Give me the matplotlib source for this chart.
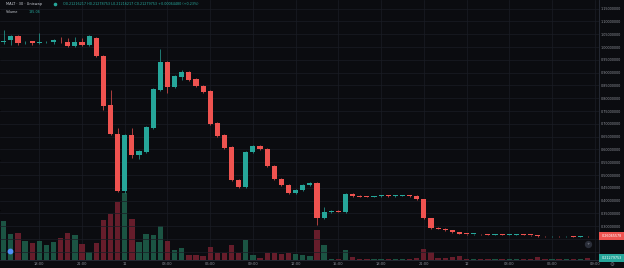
import numpy as np
import matplotlib
matplotlib.use("Agg")
import matplotlib.pyplot as plt
import matplotlib.transforms as mtransforms

# 30-minute candles, MALT / Uniswap
opens = [
    1.020, 1.027, 1.043, 1.018, 1.023, 1.016, 1.018, 1.020, 1.025, 1.020,
    1.004, 1.020, 1.008, 1.035, 0.965, 0.773, 0.660, 0.438, 0.656, 0.578,
    0.590, 0.684, 0.832, 0.941, 0.844, 0.883, 0.902, 0.875, 0.848, 0.828,
    0.703, 0.656, 0.609, 0.480, 0.453, 0.590, 0.613, 0.602, 0.535, 0.484,
    0.461, 0.430, 0.441, 0.461, 0.469, 0.332, 0.355, 0.360, 0.355, 0.426,
    0.418, 0.416, 0.415, 0.417, 0.419, 0.417, 0.419, 0.420, 0.418, 0.406,
    0.332, 0.293, 0.290, 0.284, 0.277, 0.270, 0.269, 0.270, 0.268, 0.267,
    0.268, 0.266, 0.267, 0.268, 0.266, 0.265, 0.261, 0.260, 0.261, 0.260,
    0.261, 0.259, 0.261]
closes = [
    1.023, 1.043, 1.016, 1.021, 1.016, 1.017, 1.020, 1.027, 1.022, 1.004,
    1.020, 1.008, 1.043, 0.965, 0.770, 0.660, 0.438, 0.656, 0.578, 0.594,
    0.688, 0.836, 0.941, 0.844, 0.887, 0.902, 0.871, 0.848, 0.824, 0.699,
    0.652, 0.605, 0.480, 0.453, 0.590, 0.613, 0.602, 0.535, 0.484, 0.461,
    0.430, 0.441, 0.461, 0.469, 0.332, 0.355, 0.358, 0.357, 0.426, 0.418,
    0.416, 0.415, 0.417, 0.419, 0.417, 0.419, 0.420, 0.418, 0.406, 0.332,
    0.293, 0.290, 0.284, 0.277, 0.270, 0.269, 0.270, 0.268, 0.267, 0.268,
    0.266, 0.267, 0.268, 0.266, 0.265, 0.261, 0.260, 0.261, 0.260, 0.261,
    0.259, 0.261, 0.2607]
highs = [
    1.066, 1.045, 1.045, 1.023, 1.025, 1.055, 1.022, 1.031, 1.039, 1.035,
    1.039, 1.035, 1.047, 1.039, 0.967, 0.832, 0.684, 0.660, 0.684, 0.598,
    0.692, 0.840, 0.992, 0.945, 0.891, 0.910, 0.906, 0.879, 0.852, 0.832,
    0.707, 0.660, 0.613, 0.484, 0.594, 0.617, 0.617, 0.606, 0.539, 0.488,
    0.465, 0.445, 0.465, 0.473, 0.473, 0.375, 0.362, 0.362, 0.430, 0.428,
    0.420, 0.418, 0.419, 0.421, 0.421, 0.421, 0.422, 0.422, 0.420, 0.408,
    0.334, 0.295, 0.292, 0.286, 0.279, 0.271, 0.271, 0.271, 0.269, 0.269,
    0.269, 0.268, 0.269, 0.269, 0.267, 0.266, 0.262, 0.262, 0.262, 0.262,
    0.262, 0.262, 0.262]
lows = [
    1.012, 1.008, 1.008, 1.010, 1.006, 1.012, 1.014, 1.012, 1.014, 1.000,
    1.000, 1.004, 1.004, 0.961, 0.754, 0.656, 0.434, 0.430, 0.566, 0.563,
    0.586, 0.680, 0.828, 0.820, 0.840, 0.871, 0.867, 0.844, 0.820, 0.695,
    0.648, 0.602, 0.477, 0.449, 0.449, 0.586, 0.598, 0.531, 0.480, 0.457,
    0.426, 0.426, 0.438, 0.457, 0.305, 0.328, 0.352, 0.354, 0.352, 0.416,
    0.414, 0.413, 0.413, 0.415, 0.415, 0.415, 0.417, 0.416, 0.404, 0.328,
    0.290, 0.288, 0.282, 0.275, 0.268, 0.267, 0.267, 0.266, 0.265, 0.265,
    0.264, 0.264, 0.265, 0.264, 0.263, 0.259, 0.258, 0.258, 0.258, 0.258,
    0.257, 0.257, 0.258]
volumes = [
    3900, 2600, 2700, 1900, 1700, 1900, 1500, 1800, 2200, 2700,
    2500, 1600, 800, 1700, 4000, 4600, 5800, 6700, 4100, 1800,
    2600, 2500, 3400, 1900, 1000, 1200, 500, 500, 400, 1300,
    700, 700, 1500, 700, 2000, 500, 200, 700, 700, 600,
    700, 600, 500, 400, 3000, 1500, 100, 100, 1000, 300,
    100, 100, 80, 100, 90, 100, 80, 120, 200, 1100,
    800, 200, 200, 300, 400, 100, 90, 120, 100, 80,
    100, 90, 110, 100, 120, 300, 100, 90, 110, 80,
    100, 120, 185]

time_tick_pos = [5, 11, 17, 23, 29, 35, 41, 47, 53, 59, 65, 71, 77, 83]
time_tick_labels = ["18:00", "21:00", "11", "03:00", "06:00", "09:00", "12:00",
                    "15:00", "18:00", "21:00", "12", "03:00", "06:00", "09:00"]
price_ticks = [0.20, 0.25, 0.30, 0.35, 0.40, 0.45, 0.50, 0.55, 0.60, 0.65,
               0.70, 0.75, 0.80, 0.85, 0.90, 0.95, 1.00, 1.05, 1.10, 1.15]
price_tick_labels = ["", ""] + ["%.8f" % p for p in price_ticks[2:]]

last_price_label = "0.26065578"
second_label_price = 0.176
second_label_text = "0.21279753"
header_title = "MALT · 30 · Uniswap"
header_ohlc = "O0.21216217 H0.21278753 L0.21216217 C0.21279753 +0.00064480 (+0.23%)"
volume_text = "185.06"

BG = "#0b0c10"
UP = "#26a69a"
DOWN = "#ef5350"
UP_VOL = "#1b5443"
DOWN_VOL = "#661d2b"
GRID = "#1a1d25"
TXT = "#8f929b"

o = np.array(opens)
c = np.array(closes)
h = np.array(highs)
l = np.array(lows)
v = np.array(volumes)
x = np.arange(len(o))
up = c >= o
col = np.where(up, UP, DOWN)
vcol = np.where(up, UP_VOL, DOWN_VOL)

fig = plt.figure(figsize=(6.24, 2.68), dpi=100, facecolor=BG)
ax = fig.add_axes([0, 8 / 268, 599 / 624, 260 / 268])
ax.set_facecolor(BG)

# volume pane (bottom overlay)
ax.bar(x, v, width=0.75, color=vcol, zorder=2)
ax.set_ylim(0, 26000)
ax.set_xlim(-0.52, 83.6)
ax.set_xticks(time_tick_pos)
ax.set_xticklabels(time_tick_labels)
ax.tick_params(axis="x", length=0, pad=1.6, labelsize=2.6, labelcolor=TXT)
ax.tick_params(axis="y", left=False, labelleft=False)
ax.grid(axis="x", color=GRID, lw=0.5)
ax.set_axisbelow(True)

# price pane
axp = ax.twinx()
body_bottom = np.minimum(o, c)
body_h = np.maximum(np.abs(c - o), 0.003)
axp.vlines(x, l, h, colors=col, lw=0.5, zorder=3)
axp.bar(x, body_h, bottom=body_bottom, width=0.72, color=col, zorder=4)
axp.set_ylim(0.168, 1.1836)
axp.set_yticks(price_ticks)
axp.set_yticklabels(price_tick_labels)
axp.tick_params(axis="y", length=0, pad=1.5, labelsize=2.4, labelcolor=TXT)
axp.grid(axis="y", color=GRID, lw=0.5)

for a in (ax, axp):
    for s in a.spines.values():
        s.set_visible(False)
ax.spines["right"].set_visible(True)
ax.spines["bottom"].set_visible(True)
ax.spines["right"].set_color("#2a2e39")
ax.spines["bottom"].set_color("#2a2e39")
ax.spines["right"].set_linewidth(0.6)
ax.spines["bottom"].set_linewidth(0.6)

# price labels on the scale
trans = mtransforms.blended_transform_factory(axp.transAxes, axp.transData)
axp.text(1.004, closes[-1], last_price_label, transform=trans, ha="left", va="center",
         fontsize=2.4, color="white", clip_on=False,
         bbox=dict(boxstyle="square,pad=0.6", fc=DOWN, ec="none"))
axp.text(1.004, second_label_price, second_label_text, transform=trans, ha="left",
         va="center", fontsize=2.4, color="white", clip_on=False,
         bbox=dict(boxstyle="square,pad=0.6", fc=UP, ec="none"))

# header legend
axp.text(0.010, 0.983, header_title, transform=axp.transAxes, fontsize=2.6,
         color="#c9ccd4", va="center", ha="left")
axp.scatter([0.092], [0.983], s=2.5, color=UP, transform=axp.transAxes, clip_on=False)
axp.text(0.105, 0.983, header_ohlc, transform=axp.transAxes, fontsize=2.4,
         color=UP, va="center", ha="left")
axp.text(0.010, 0.952, "Volume", transform=axp.transAxes, fontsize=2.4,
         color="#c9ccd4", va="center", ha="left")
axp.text(0.048, 0.952, volume_text, transform=axp.transAxes, fontsize=2.4,
         color=UP, va="center", ha="left")

# small chart icons
axp.scatter([0.9816], [0.062], s=18, color="#2a2e39", transform=axp.transAxes, zorder=6)
axp.text(0.9816, 0.062, "+", transform=axp.transAxes, fontsize=3, color="#9598a1",
         ha="center", va="center", zorder=7)
axp.scatter([0.017], [0.035], s=10, color="#4f8ff7", marker="o",
            transform=axp.transAxes, zorder=6)
fig.text(612 / 624, 4 / 268, "⚙", fontsize=4, color="#787b86", ha="center", va="center")

fig.savefig("out.png", dpi=100, facecolor=BG)
